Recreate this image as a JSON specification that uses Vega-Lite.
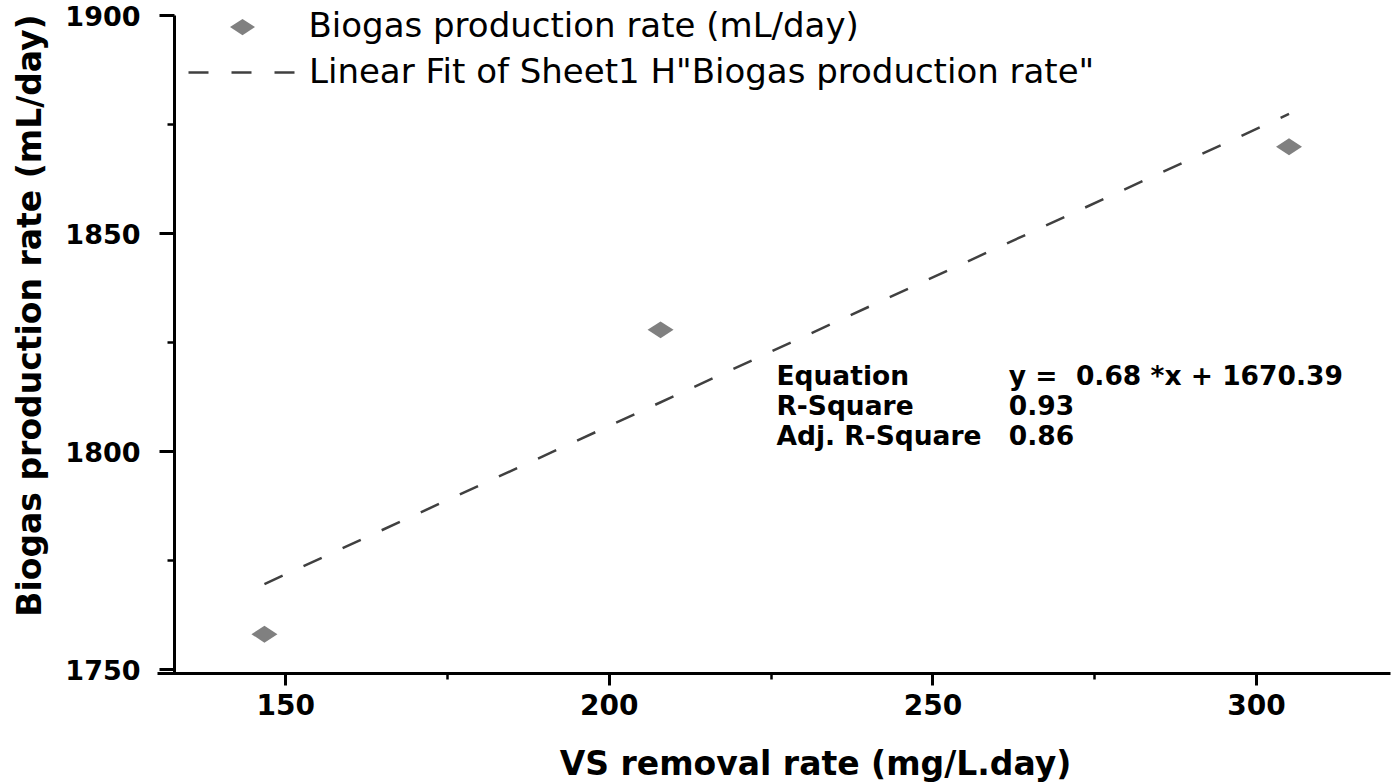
{
  "$schema": "https://vega.github.io/schema/vega-lite/v6.json",
  "width": 1233,
  "height": 658,
  "autosize": {"type": "none"},
  "padding": {"left": 157, "top": 15, "right": 2, "bottom": 110},
  "background": "white",
  "config": {"view": {"stroke": null}, "font": "DejaVu Sans"},
  "datasets": {
    "measured": [
      {"series": "Biogas production rate (mL/day)", "vs": 146.8, "biogas": 1758.0},
      {"series": "Biogas production rate (mL/day)", "vs": 208.0, "biogas": 1827.8},
      {"series": "Biogas production rate (mL/day)", "vs": 305.1, "biogas": 1869.8}
    ],
    "fit": [
      {"series": "Linear Fit of Sheet1 H\"Biogas production rate\"", "vs": 146.8, "biogas": 1769.5},
      {"series": "Linear Fit of Sheet1 H\"Biogas production rate\"", "vs": 305.1, "biogas": 1877.3}
    ],
    "stats": [
      {"names": ["Equation", "R-Square", "Adj. R-Square"], "values": ["y =\u00a0 0.68 *x + 1670.39", "0.93", "0.86"]}
    ]
  },
  "layer": [
    {
      "data": {"name": "measured"},
      "mark": {"type": "point", "filled": true, "opacity": 1, "color": "#808080", "strokeWidth": 0},
      "encoding": {
        "x": {
          "field": "vs", "type": "quantitative",
          "scale": {"domain": [130.2, 320.7], "nice": false, "zero": false},
          "axis": {
            "orient": "bottom", "values": [150, 200, 250, 300], "format": "d", "grid": false,
            "domainColor": "black", "domainWidth": 3, "tickColor": "black", "tickWidth": 3, "tickSize": 12,
            "labelFont": "DejaVu Sans", "labelFontWeight": "bold", "labelFontSize": 28, "labelColor": "black", "labelPadding": 7,
            "title": "VS removal rate (mg/L.day)", "titleFont": "DejaVu Sans", "titleFontWeight": "bold", "titleFontSize": 33, "titleColor": "black",
            "titleX": 658, "titleY": 101, "titleAlign": "center", "titleBaseline": "alphabetic"
          }
        },
        "y": {
          "field": "biogas", "type": "quantitative",
          "scale": {"domain": [1749.1, 1900], "nice": false, "zero": false},
          "axis": {
            "orient": "left", "offset": -17, "values": [1750, 1800, 1850, 1900], "format": "d", "grid": false,
            "domainColor": "black", "domainWidth": 3, "tickColor": "black", "tickWidth": 3, "tickSize": 15,
            "labelFont": "DejaVu Sans", "labelFontWeight": "bold", "labelFontSize": 27, "labelColor": "black", "labelPadding": 19, "labelOffset": 2,
            "title": "Biogas production rate (mL/day)", "titleFont": "DejaVu Sans", "titleFontWeight": "bold", "titleFontSize": 33, "titleColor": "black",
            "titleAngle": -90, "titleX": -134, "titleY": 300, "titleAlign": "center", "titleBaseline": "alphabetic"
          }
        },
        "shape": {
          "field": "series", "type": "nominal",
          "scale": {"range": ["M-1,0L0,-0.65L1,0L0,0.65Z"]},
          "legend": {
            "title": null, "orient": "none", "legendX": 68.5, "legendY": -5, "padding": 0,
            "symbolSize": 625, "symbolFillColor": "#808080", "symbolStrokeWidth": 0, "symbolOpacity": 1,
            "labelFont": "DejaVu Sans", "labelFontSize": 34, "labelColor": "black", "labelOffset": 49, "labelLimit": 1200
          }
        },
        "size": {"value": 676}
      }
    },
    {
      "data": {"name": "fit"},
      "mark": {"type": "line", "color": "#404040", "strokeWidth": 2.5},
      "encoding": {
        "x": {
          "field": "vs", "type": "quantitative",
          "scale": {"domain": [130.2, 320.7], "nice": false, "zero": false},
          "axis": {
            "orient": "bottom", "values": [175, 225, 275], "grid": false, "domain": false, "labels": false, "title": null,
            "tickColor": "black", "tickWidth": 2.5, "tickSize": 6
          }
        },
        "y": {
          "field": "biogas", "type": "quantitative",
          "scale": {"domain": [1749.1, 1900], "nice": false, "zero": false},
          "axis": {
            "orient": "left", "offset": -17, "values": [1775, 1825, 1875], "grid": false, "domain": false, "labels": false, "title": null,
            "tickColor": "black", "tickWidth": 2.5, "tickSize": 7
          }
        },
        "strokeDash": {
          "field": "series", "type": "nominal",
          "scale": {"range": [[20, 23]]},
          "legend": {
            "title": null, "orient": "none", "legendX": 30, "legendY": 1, "padding": 0,
            "symbolType": "stroke", "symbolSize": 12100, "symbolStrokeColor": "#404040", "symbolStrokeWidth": 2.5,
            "labelFont": "DejaVu Sans", "labelFontSize": 34, "labelColor": "black", "labelOffset": 9, "labelLimit": 1200
          }
        }
      }
    },
    {
      "data": {"name": "stats"},
      "mark": {"type": "text", "align": "left", "baseline": "alphabetic", "font": "DejaVu Sans", "fontWeight": "bold", "fontSize": 26.5, "lineHeight": 30, "color": "black"},
      "encoding": {
        "x": {"datum": 225.9, "type": "quantitative", "axis": null, "scale": {"domain": [130.2, 320.7], "nice": false, "zero": false}},
        "y": {"datum": 1815.1, "type": "quantitative", "axis": null, "scale": {"domain": [1749.1, 1900], "nice": false, "zero": false}},
        "text": {"field": "names", "type": "nominal"}
      }
    },
    {
      "data": {"name": "stats"},
      "mark": {"type": "text", "align": "left", "baseline": "alphabetic", "font": "DejaVu Sans", "fontWeight": "bold", "fontSize": 26.5, "lineHeight": 30, "color": "black"},
      "encoding": {
        "x": {"datum": 261.8, "type": "quantitative", "axis": null, "scale": {"domain": [130.2, 320.7], "nice": false, "zero": false}},
        "y": {"datum": 1815.1, "type": "quantitative", "axis": null, "scale": {"domain": [1749.1, 1900], "nice": false, "zero": false}},
        "text": {"field": "values", "type": "nominal"}
      }
    }
  ],
  "resolve": {"axis": {"x": "independent", "y": "independent"}}
}
